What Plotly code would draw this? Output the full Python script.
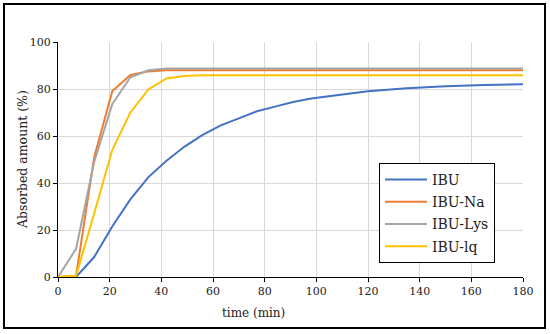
import plotly.graph_objects as go

# Data
t_ibu = [0, 7, 14, 21, 28, 35, 42, 49, 56, 63, 70, 77, 84, 91, 98, 105, 112, 120, 135, 150, 165, 180]
ibu = [0, 0, 8.5, 21.5, 33, 42.5, 49.5, 55.5, 60.5, 64.5, 67.5, 70.5, 72.5, 74.5, 76, 77, 78, 79, 80.3, 81.2, 81.7, 82]

t_salt = [0, 7, 14, 21, 28, 35, 42, 49, 56, 63, 70, 90, 120, 150, 180]
ibu_na = [0, 0.5, 51, 79, 86, 87.5, 88, 88, 88, 88, 88, 88, 88, 88, 88]
ibu_lys = [0, 12, 49, 73.5, 85, 88, 88.7, 88.7, 88.7, 88.7, 88.7, 88.7, 88.7, 88.7, 88.7]
ibu_lq = [0, 0.5, 27, 54, 70, 79.8, 84.5, 85.5, 85.8, 85.8, 85.8, 85.8, 85.8, 85.8, 85.8]

names = ["IBU", "IBU-Na", "IBU-Lys", "IBU-lq"]
colors = ["#4472C4", "#ED7D31", "#A5A5A5", "#FFC000"]
x_ticks = list(range(0, 181, 20))
y_ticks = list(range(0, 101, 20))

series = [(t_ibu, ibu), (t_salt, ibu_na), (t_salt, ibu_lys), (t_salt, ibu_lq)]

fig = go.Figure()
for (tx, ty), name, col in zip(series, names, colors):
    fig.add_trace(go.Scatter(x=tx, y=ty, mode="lines", name=name, legendgroup=name,
                             line=dict(color=col, width=2)))

font = "DejaVu Serif"
txt = "#222"
L, R, T, B = 58, 523, 42, 277
PW, PH = R - L, B - T

def px(x):
    return (x - L) / PW

def py(y):
    return (B - y) / PH

fig.update_layout(
    width=550, height=334,
    margin=dict(l=L, r=550 - R, t=T, b=334 - B),
    paper_bgcolor="white", plot_bgcolor="white",
    font=dict(family=font, size=11, color=txt),
    showlegend=True,
    legend=dict(x=px(379), y=py(163), xanchor="left", yanchor="top",
                bgcolor="white", bordercolor="black", borderwidth=1,
                font=dict(family=font, size=14, color=txt),
                tracegroupgap=1, itemwidth=42),
    xaxis=dict(range=[0, 180], tickvals=x_ticks, showgrid=True, gridcolor="#d9d9d9",
               showline=True, linecolor="black", linewidth=1, ticks="outside",
               ticklen=4, tickcolor="black", zeroline=False, fixedrange=True,
               tickfont=dict(family=font, size=11, color=txt)),
    yaxis=dict(range=[0, 100], tickvals=y_ticks, showgrid=True, gridcolor="#d9d9d9",
               showline=True, linecolor="black", linewidth=1, ticks="outside",
               ticklen=4, tickcolor="black", zeroline=False, fixedrange=True,
               tickfont=dict(family=font, size=11, color=txt)),
    annotations=[
        dict(text="time (min)", xref="paper", yref="paper",
             x=px(253), y=py(313), showarrow=False,
             xanchor="center", yanchor="middle", font=dict(family=font, size=12, color=txt)),
        dict(text="Absorbed amount (%)", xref="paper", yref="paper",
             x=px(22), y=py(160), showarrow=False, textangle=-90,
             xanchor="center", yanchor="middle", font=dict(family=font, size=12.5, color=txt)),
    ],
    shapes=[
        dict(type="rect", xref="paper", yref="paper",
             x0=px(4), x1=px(545), y0=py(328), y1=py(4),
             line=dict(color="black", width=2), layer="below"),
    ],
)

fig.write_html("out.html", config={"displayModeBar": False},
               post_script="document.body.style.margin='0';document.body.style.overflow='hidden';")
